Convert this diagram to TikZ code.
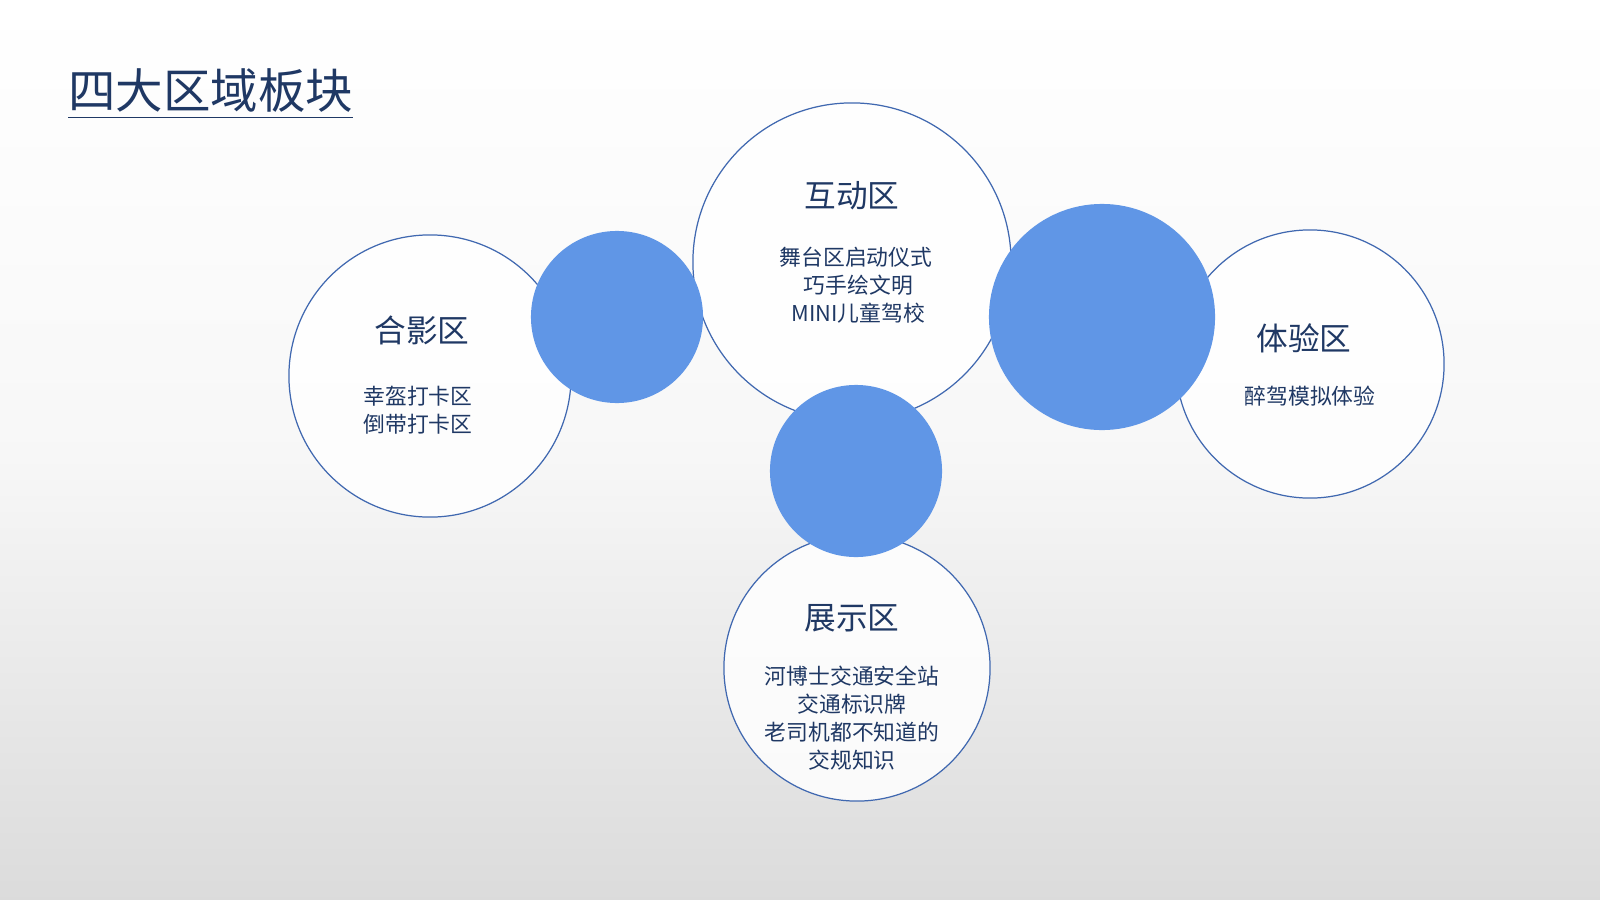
\documentclass[tikz,border=0pt]{standalone}
\usepackage{fontspec}
\setmainfont{Noto Sans CJK SC}
\definecolor{ring}{HTML}{4068B0}
\definecolor{blob}{HTML}{6096E6}
\definecolor{ink}{HTML}{1F3864}
\begin{document}
\begin{tikzpicture}[x=0.01cm,y=-0.01cm,
  zone/.style={circle,draw=ring,line width=0.35pt,fill=white,fill opacity=0.85,text opacity=1,inner sep=0pt,outer sep=0pt},
  dot/.style={circle,fill=blob,draw=none,inner sep=0pt},
  head/.style={text=ink,font=\fontsize{9}{11}\selectfont},
  body/.style={text=ink,font=\fontsize{6.2}{8}\selectfont,align=center}]
\shade[top color=white,bottom color=black!14,middle color=black!3] (0,0) rectangle (1600,900);
\useasboundingbox (0,0) rectangle (1600,900);
\node[anchor=west,text=ink,font=\fontsize{13.5}{16}\selectfont] (title) at (56,94) {\underline{四大区域板块}};
\node[zone,minimum size=2.82cm] (L) at (430,376) {};
\node[zone,minimum size=3.18cm] (T) at (852,262) {};
\node[zone,minimum size=2.68cm] (R) at (1310,364) {};
\node[zone,minimum size=2.66cm] (B) at (857,668) {};
\node[dot,minimum size=1.72cm] (d1) at (617,317) {};
\node[dot,minimum size=2.26cm] (d2) at (1102,317) {};
\node[dot,minimum size=1.72cm] (d3) at (856,471) {};
\node[head] (hL) at (422,330) {合影区};
\node[body] (bL) at (418,410) {幸盔打卡区\\倒带打卡区};
\node[head] (hT) at (852,196) {互动区};
\node[body] (bT) at (856,285) {舞台区启动仪式\\\ 巧手绘文明\\\ MINI儿童驾校};
\node[head] (hR) at (1304,338) {体验区};
\node[body] (bR) at (1310,396) {醉驾模拟体验};
\node[head] (hB) at (852,618) {展示区};
\node[body] (bB) at (852,718) {河博士交通安全站\\交通标识牌\\老司机都不知道的\\交规知识};
\end{tikzpicture}
\end{document}
